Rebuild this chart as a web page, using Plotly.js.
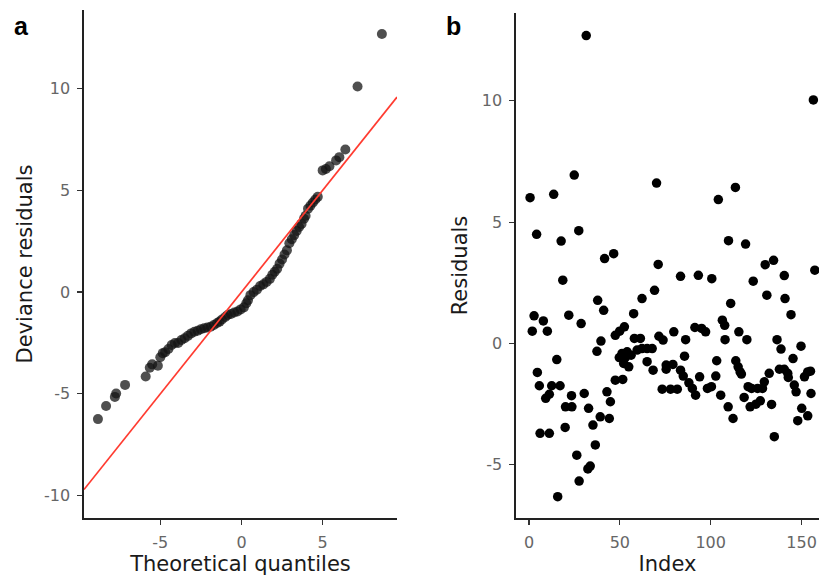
<!DOCTYPE html>
<html>
<head>
<meta charset="utf-8">
<script src="https://cdn.plot.ly/plotly-3.0.1.min.js"></script>
<style>html,body{margin:0;padding:0;background:#fff}#chart{width:819px;height:576px}</style>
</head>
<body>
<div id="chart"></div>
<script>
// ---------- Panel a: Q-Q plot (theoretical quantiles vs deviance residuals) ----------
const qqX = [-8.84,-8.34,-7.8,-7.72,-7.17,-5.9,-5.65,-5.5,-5.15,-5.0,-4.85,-4.7,-4.5,-4.3,-4.1,-3.9,-3.7,-3.5,-3.3,-3.1,-2.9,-2.7,-2.5,-2.3,-2.1,-1.9,-1.7,-1.5,-1.35,-1.2,-1.0,-0.85,-0.65,-0.45,-0.25,-0.05,0.15,0.3,0.4,0.55,0.75,0.95,1.15,1.35,1.55,1.75,1.9,2.05,2.2,2.35,2.5,2.65,2.8,2.95,3.1,3.25,3.4,3.55,3.7,3.85,3.95,4.1,4.25,4.4,4.55,4.7,5.0,5.2,5.42,5.83,6.03,6.4,7.15,8.65];
const qqY = [-6.24,-5.6,-5.15,-4.98,-4.56,-4.15,-3.72,-3.55,-3.62,-3.2,-3.0,-2.95,-2.8,-2.6,-2.5,-2.5,-2.35,-2.27,-2.15,-2.03,-1.95,-1.9,-1.83,-1.78,-1.74,-1.7,-1.62,-1.52,-1.45,-1.35,-1.22,-1.13,-1.08,-1.0,-0.95,-0.85,-0.75,-0.55,-0.4,-0.15,0.0,0.12,0.3,0.38,0.5,0.65,0.85,1.0,1.15,1.4,1.6,1.85,2.05,2.4,2.6,2.8,3.0,3.2,3.35,3.6,3.75,4.1,4.25,4.4,4.55,4.68,5.98,6.05,6.18,6.47,6.63,7.01,10.1,12.68];
// reference line y = intercept + slope * x
const refSlope = 1, refIntercept = 0;

// ---------- Panel b: residuals vs index ----------
const idx = [31.5,156.5,0.6,13.6,24.9,70.2,104.2,113.6,4.2,17.7,27.4,109.8,119.2,41.6,46.6,71.1,130,134.6,157.3,83.4,93.2,100.6,123.4,140.5,18.6,
  130.9,140.9,62.2,69.1,37.8,41.1,57.6,111,144.2,2.8,7.9,1.8,10.1,21.9,28.7,39.6,37.4,47.5,49.9,52.5,15.3,4.6,5.7,9.2,11.2,12.5,17.1,6.1,11.2,20.1,23.6,19.9,23.4,30.4,32.8,35.2,36.5,26.3,32.4,33.7,27.6,15.8,42.9,44.8,39.2,44.2,47.5,51.6,
  49.7,51.2,53,54,52.1,54.9,58,61.3,59.5,62.2,65,67.8,65,68.3,56.2,
  71.5,73.8,75.5,75.5,73.3,77.9,81.6,79.7,86.2,79.2,83.4,85.6,84.9,88,89.9,91.7,93.9,91.3,95,97.2,98.2,100.4,102.8,103.3,105.5,106.4,107.7,107.9,109.6,112.3,113.8,115.1,116.2,116.9,115.5,119.9,118.4,120.6,122.5,121.7,124.9,127.3,125.8,128.5,129.5,132.2,133.5,135,136.5,138.7,137.8,140.5,142.4,142.7,145.3,146,147,149.7,147.9,150.1,153.4,151.6,153.4,154.9,155.2];
const resid = [12.69,10.04,6.01,6.15,6.94,6.61,5.93,6.43,4.5,4.22,4.65,4.24,4.1,3.5,3.7,3.26,3.25,3.43,3.02,2.77,2.81,2.67,2.57,2.8,2.61,
  1.99,1.85,1.85,2.19,1.78,1.37,1.23,1.65,1.19,1.14,0.93,0.51,0.51,1.17,0.82,0.10,-0.32,0.34,0.51,0.69,-0.66,-1.19,-1.74,-2.26,-2.09,-1.74,-1.74,-3.7,-3.7,-2.61,-2.61,-3.46,-2.15,-2.06,-2.67,-3.36,-4.18,-4.6,-5.17,-5.05,-5.67,-6.31,-1.99,-2.4,-3.02,-3.09,-1.51,-1.48,
  -0.58,-0.41,-0.58,-0.34,-0.82,-0.96,0.21,0.21,-0.27,-0.21,-0.21,-0.21,-0.75,-1.10,-0.48,
  0.30,0.14,-0.89,-1.06,-1.88,-1.88,-1.88,0.48,0.16,-0.86,-1.10,-0.52,-1.34,-1.62,-1.85,-2.13,-1.37,0.66,0.62,0.48,-1.85,-1.78,-1.34,-0.71,-2.13,0.96,0.75,0.16,-2.61,-3.09,-0.71,-0.96,-1.17,-1.26,0.48,0.16,-2.22,-1.78,-1.85,-2.61,-2.5,-2.36,-1.85,-1.85,-1.58,-1.23,-2.51,-3.84,0.16,-0.23,-1.06,-1.06,-1.23,-1.4,-0.62,-1.71,-1.99,-0.11,-3.18,-2.67,-2.98,-1.37,-1.17,-1.14,-2.06];

// ---------- ticks ----------
const qqXTicks = [-5, 0, 5], qqXTickText = ['-5', '0', '5'];
const qqYTicks = [-10, -5, 0, 5, 10], qqYTickText = ['-10', '-5', '0', '5', '10'];
const bXTicks = [0, 50, 100, 150], bXTickText = ['0', '50', '100', '150'];
const bYTicks = [-5, 0, 5, 10], bYTickText = ['-5', '0', '5', '10'];

const rangeAx = [-9.7, 9.58], rangeAy = [-11.1, 13.86];
const rangeBx = [-7.15, 159.6], rangeBy = [-7.19, 13.62];

const refX = rangeAx.slice();
const refY = refX.map(v => refIntercept + refSlope * v);

const FONT = 'DejaVu Sans, Liberation Sans, Arial, sans-serif';
const tickFont = {family: FONT, size: 16, color: '#666'};
const titleFont = {family: FONT, size: 21, color: '#1a1a1a'};

function axisBase(extra) {
  return Object.assign({
    showline: true, linecolor: '#222', linewidth: 1.6,
    ticks: 'outside', ticklen: 5, tickwidth: 1.2, tickcolor: '#333',
    showgrid: false, zeroline: false, tickfont: tickFont,
    tickmode: 'array', fixedrange: true, ticklabelstandoff: 4
  }, extra);
}

const traces = [
  {x: qqX, y: qqY, xaxis: 'x', yaxis: 'y', type: 'scatter', mode: 'markers',
   marker: {color: 'rgba(20,20,20,0.75)', size: 10}, hoverinfo: 'skip'},
  {x: refX, y: refY, xaxis: 'x', yaxis: 'y', type: 'scatter', mode: 'lines',
   line: {color: '#ff3b30', width: 1.7}, hoverinfo: 'skip'},
  {x: idx, y: resid, xaxis: 'x2', yaxis: 'y2', type: 'scatter', mode: 'markers',
   marker: {color: '#000', size: 9.5}, hoverinfo: 'skip'}
];

const layout = {
  width: 819, height: 576,
  margin: {l: 0, r: 0, t: 0, b: 0},
  paper_bgcolor: '#fff', plot_bgcolor: '#fff',
  showlegend: false,
  font: {family: FONT},
  xaxis: axisBase({domain: [84/819, 397/819], range: rangeAx, anchor: 'y',
    tickvals: qqXTicks, ticktext: qqXTickText,
    title: {text: 'Theoretical quantiles', font: titleFont, standoff: 4}}),
  yaxis: axisBase({domain: [1 - 518/576, 1 - 10/576], range: rangeAy, anchor: 'x',
    tickvals: qqYTicks, ticktext: qqYTickText,
    title: {text: 'Deviance residuals', font: titleFont, standoff: 6}}),
  xaxis2: axisBase({domain: [516/819, 1], range: rangeBx, anchor: 'y2',
    tickvals: bXTicks, ticktext: bXTickText,
    title: {text: 'Index', font: titleFont, standoff: 4}}),
  yaxis2: axisBase({domain: [1 - 518/576, 1 - 13/576], range: rangeBy, anchor: 'x2',
    tickvals: bYTicks, ticktext: bYTickText,
    title: {text: 'Residuals', font: titleFont, standoff: 8}}),
  annotations: [
    {text: '<b>a</b>', xref: 'paper', yref: 'paper', x: 12/819, y: 1 - 10/576,
     xanchor: 'left', yanchor: 'top', showarrow: false,
     font: {family: 'Liberation Sans, Arial, sans-serif', size: 25, color: '#000'}},
    {text: '<b>b</b>', xref: 'paper', yref: 'paper', x: 444/819, y: 1 - 10/576,
     xanchor: 'left', yanchor: 'top', showarrow: false,
     font: {family: 'Liberation Sans, Arial, sans-serif', size: 25, color: '#000'}}
  ]
};

Plotly.newPlot('chart', traces, layout, {staticPlot: true, displayModeBar: false});
</script>
</body>
</html>
